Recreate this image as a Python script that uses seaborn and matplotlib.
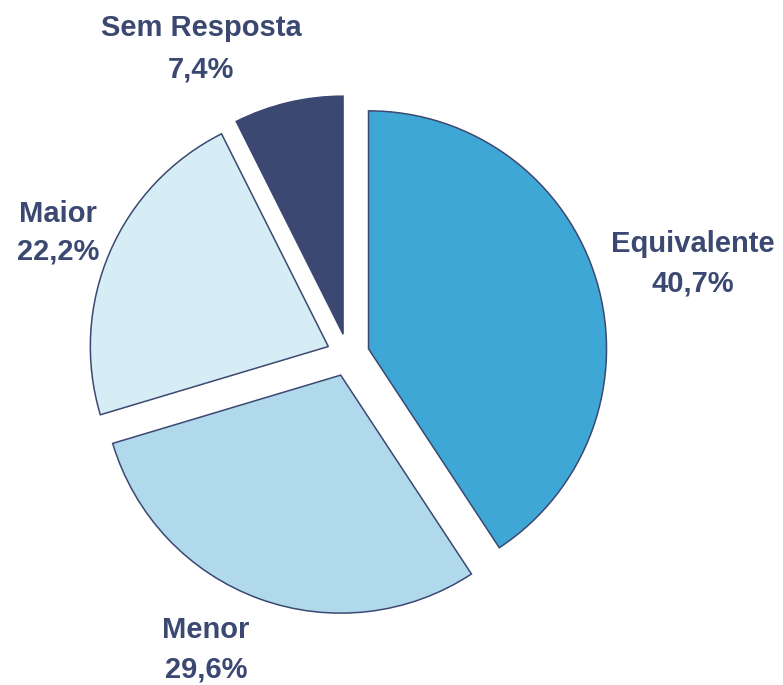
import matplotlib
matplotlib.use("Agg")
import matplotlib.pyplot as plt
import seaborn as sns

# Survey answer shares (%)
categories = ["Equivalente", "Menor", "Maior", "Sem Resposta"]
values = [40.7, 29.6, 22.2, 7.4]
colors = ["#3FA7D6", "#B0DAEC", "#D7EDF6", "#3B4871"]

sns.set_theme(style="white")
plt.rcParams["font.family"] = ["Liberation Sans", "DejaVu Sans"]

W, H = 783, 685
cx, cy, R = 348, 355, 238  # pie centre and radius in pixels

fig = plt.figure(figsize=(W / 100, H / 100), dpi=100)
ax = fig.add_axes([0, 0, 1, 1])

ax.pie(values, colors=colors, startangle=90, counterclock=False,
       explode=[0.09] * len(values), radius=1,
       wedgeprops=dict(edgecolor="#3B4871", linewidth=1.1))

ax.set_xlim(-cx / R, (W - cx) / R)
ax.set_ylim(-(H - cy) / R, cy / R)
ax.set_aspect("auto")
ax.axis("off")

# label baselines (pixels): x centre, name baseline, percentage baseline
label_px = {
    "Equivalente": (693, 252, 292),
    "Menor": (206, 638, 677),
    "Maior": (58, 222, 259),
    "Sem Resposta": (201, 36, 77),
}
txt_color = "#3B4871"
for cat, val in zip(categories, values):
    px, y1, y2 = label_px[cat]
    pct = f"{val:.1f}".replace(".", ",") + "%"
    for s, py in ((cat, y1), (pct, y2)):
        ax.text((px - cx) / R, (cy - py) / R, s,
                ha="center", va="baseline", fontsize=21, fontweight="bold",
                color=txt_color)

fig.savefig("out.png", dpi=100)
